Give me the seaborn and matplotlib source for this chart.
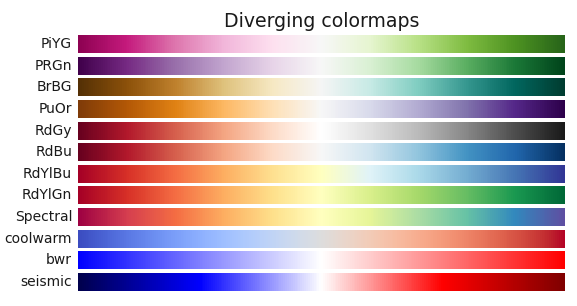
import numpy as np
import matplotlib
matplotlib.use("Agg")
import matplotlib.pyplot as plt
import seaborn as sns

cmap_category = "Diverging"
cmap_list = ["PiYG", "PRGn", "BrBG", "PuOr", "RdGy", "RdBu",
             "RdYlBu", "RdYlGn", "Spectral", "coolwarm", "bwr", "seismic"]

gradient = np.linspace(0, 1, 256)[np.newaxis, :]

sns.set_style("white")
plt.rcParams["font.family"] = ["DejaVu Sans"]

W, H = 577, 306
fig, axs = plt.subplots(nrows=len(cmap_list), figsize=(W / 100, H / 100), dpi=100)
fig.subplots_adjust(left=78 / W, right=564.5 / W, top=1 - 35 / H,
                    bottom=1 - 291 / H, hspace=0.2)

axs[0].set_title(f"{cmap_category} colormaps", fontsize=13.6, color="#1a1a1a")

for ax, name in zip(axs, cmap_list):
    sns.heatmap(gradient, cmap=name, cbar=False, xticklabels=False,
                yticklabels=False, ax=ax, rasterized=True)
    ax.set_xlabel("")
    ax.set_ylabel("")
    ax.text(-0.012, 0.5, name, va="center", ha="right", fontsize=10,
            color="#1a1a1a", transform=ax.transAxes)

fig.savefig("out.png", dpi=100)
